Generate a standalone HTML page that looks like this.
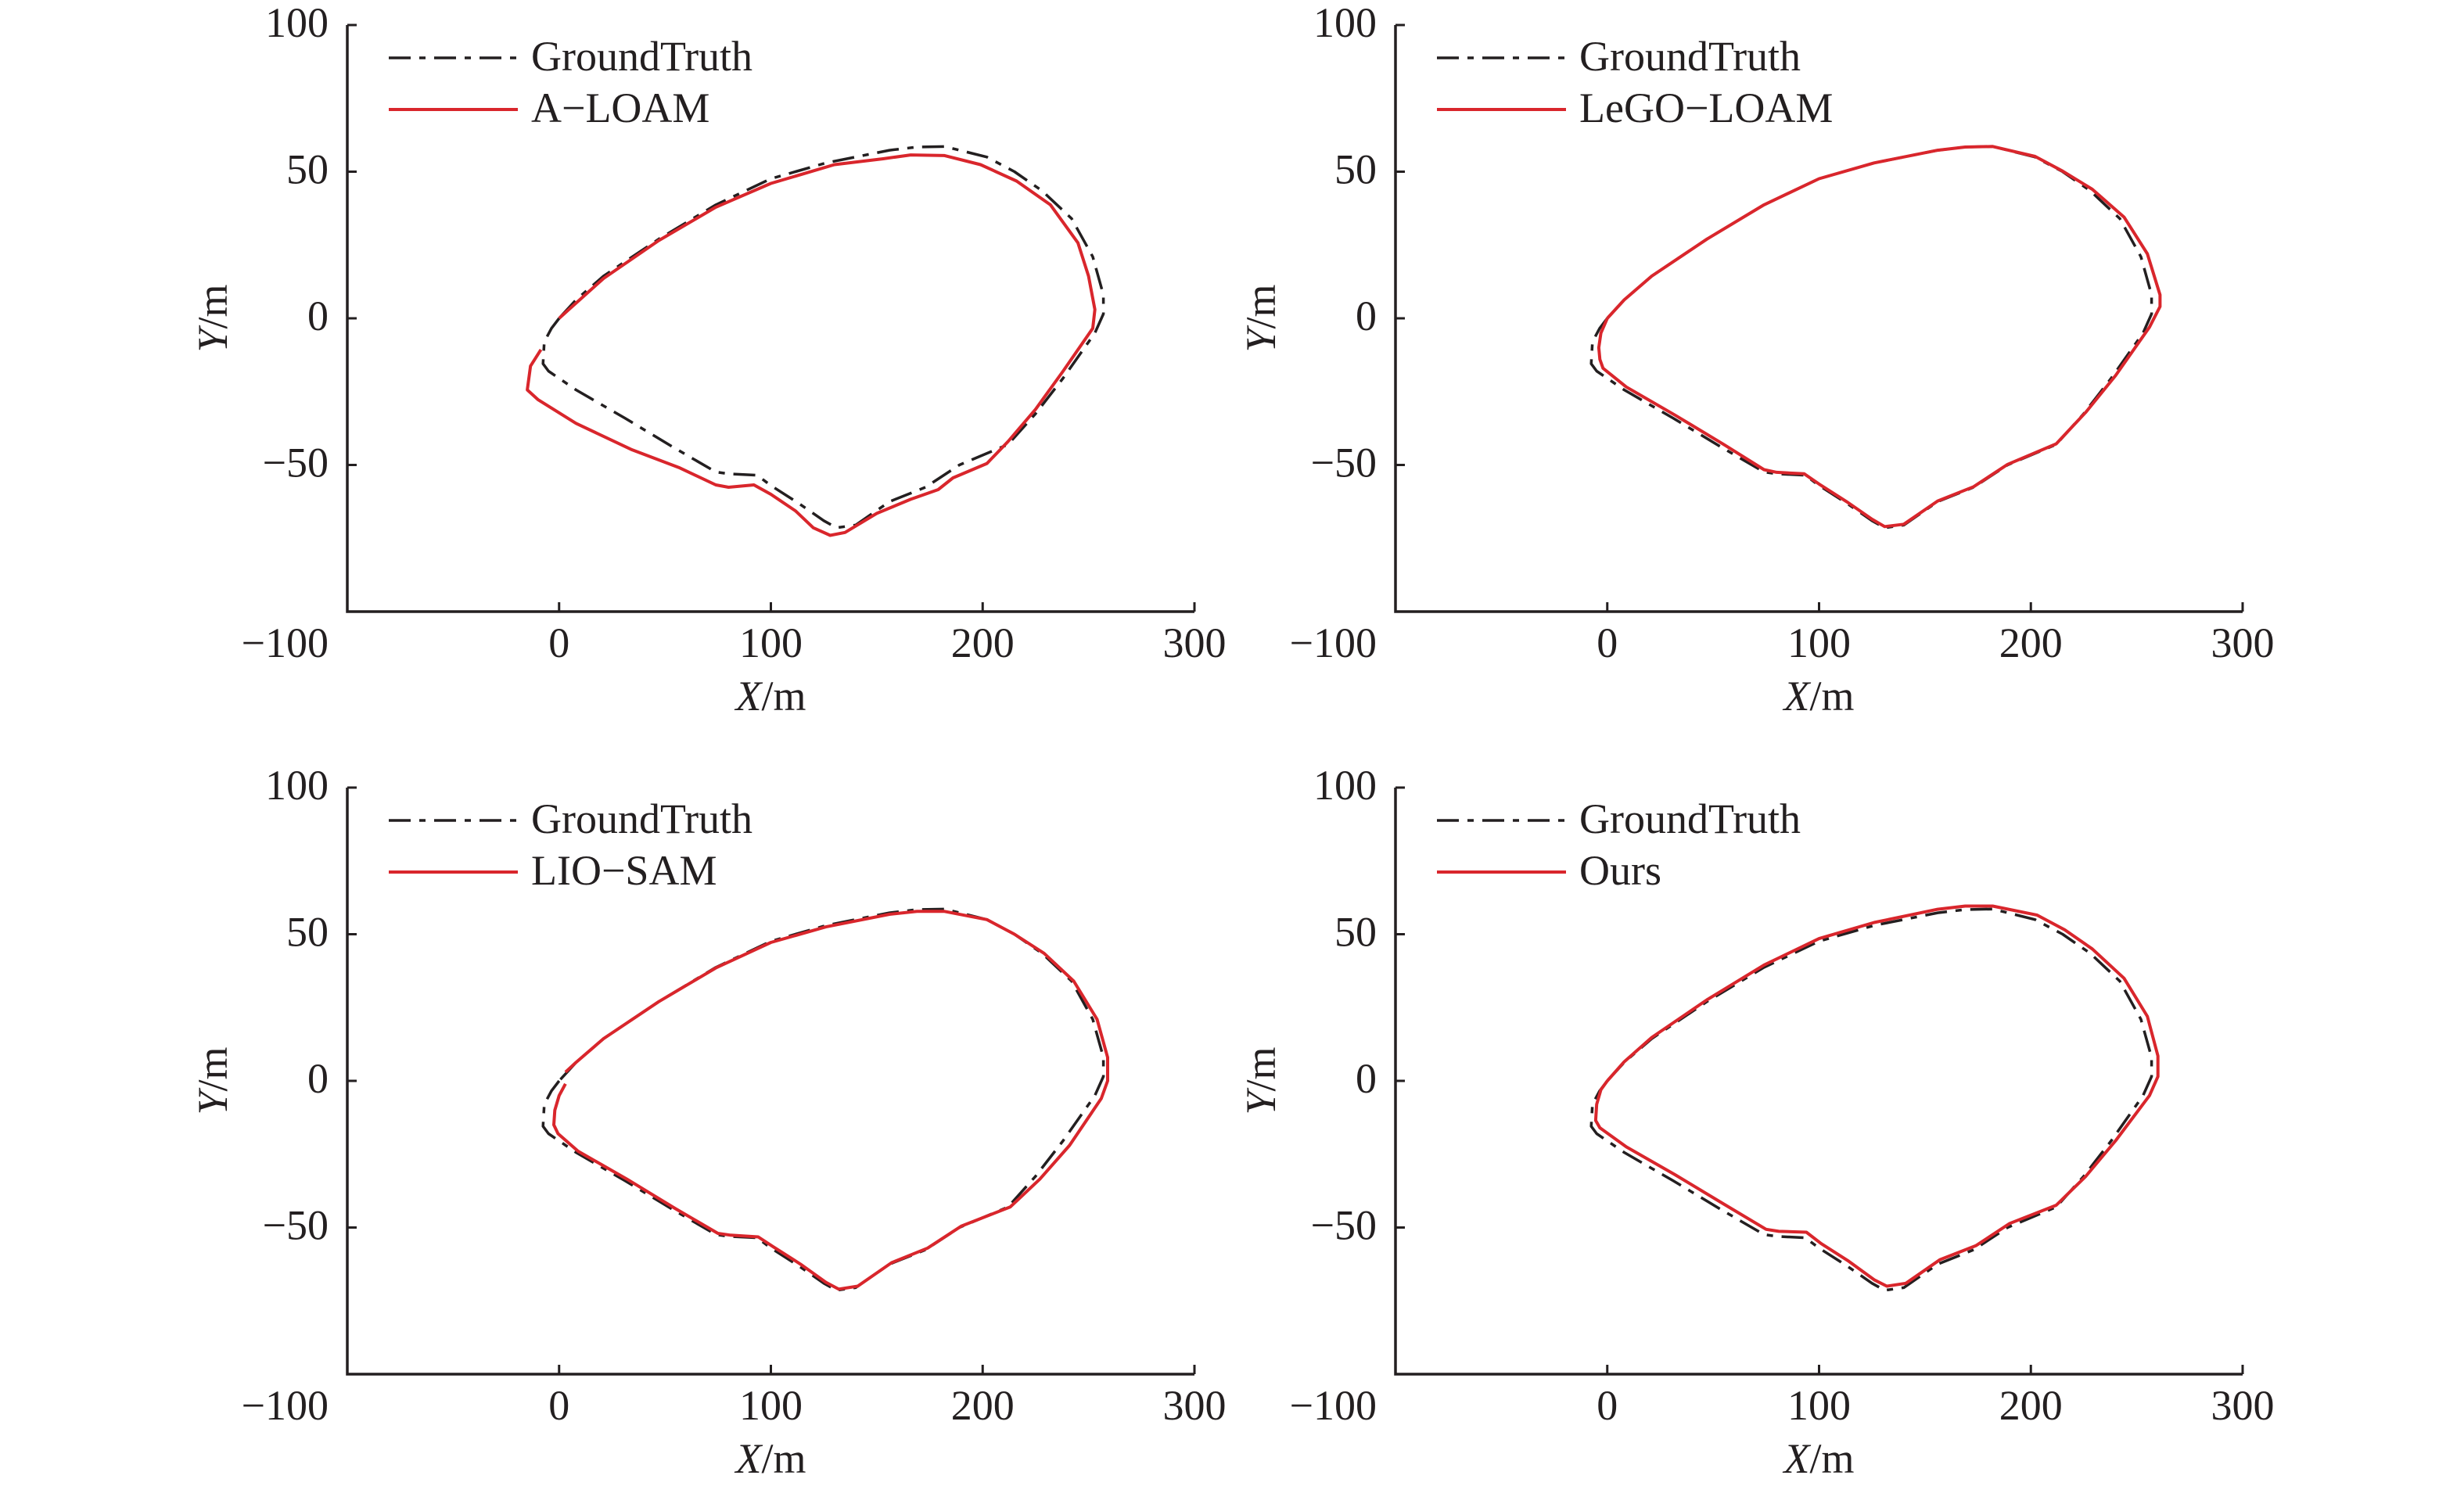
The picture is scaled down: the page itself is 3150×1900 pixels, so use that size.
<!DOCTYPE html>
<html><head><meta charset="utf-8">
<style>
html,body{margin:0;padding:0;background:#fff;}
svg{display:block;font-family:"Liberation Serif","Times New Roman",serif;}
</style></head>
<body>
<svg id="chart" width="3150" height="1900" viewBox="0 0 3150 1900" xmlns="http://www.w3.org/2000/svg"></svg>
<script>
// ---- data ----
const xTicks = [0, 100, 200, 300];
const yTicks = [100, 50, 0, -50];
const xTickLabels = ["−100", "0", "100", "200", "300"];
const yTickLabels = ["100", "50", "0", "−50"];
const methods = ["A−LOAM", "LeGO−LOAM", "LIO−SAM", "Ours"];

const gtX = [0,-3.6,-7,-7.6,-5,8,31,54,74,80,93.5,100,113,125,131,140,156,173,189,212,225,238,253,257,257,252,242,228,215,202,182,169,156,126,100,74,47,21,8,0];
const gtY = [0,-3.4,-8,-15.5,-18,-24.4,-34,-44,-52.4,-53,-53.5,-57,-63,-69,-71.4,-70.5,-62.5,-57.6,-50,-43,-32.5,-20.4,-5,1.5,8,21,34,43.5,50,55,58.6,58.4,57.3,53,47.6,38.7,27,14.4,6.3,0];

const aloamX = [-8.6,-13.5,-15,-10,8,34,57,74,80,92,100,111.7,120,128,135,150,166,179,186,202,212,225,238,252,253,250,245,232,216,199,182,166,153,130,100,74,47,21,4.6,0];
const aloamY = [-10.7,-16.3,-24.4,-27.7,-35.8,-44.7,-51,-56.8,-57.6,-56.8,-60,-65.7,-71.4,-74,-73,-66.5,-61.7,-58.4,-54.4,-49.5,-42,-31,-18,-3.4,3,14.4,25.7,38.7,46.8,52.4,55.5,55.7,54.4,52.4,46,37.9,26.5,13.6,3,0];

const legoX = [0,-3,-4,-3.5,-2,9,32,55,74,80,93,100,113,125,131,140,156,173,189,212,226,240,256,261,261,255,244,229,215,202,182,169,156,126,100,74,47,21,8,0];
const legoY = [0,-5,-10,-14,-17,-23.4,-33,-43,-51.6,-52.5,-53,-56.5,-62.5,-68.5,-71,-70.2,-62.3,-57.4,-49.8,-42.8,-32,-19.5,-3,4,8,22,34.5,44,50.2,55.2,58.6,58.4,57.3,53,47.6,38.7,27,14.4,6.3,0];

const liosamX = [3,0,-2,-2.5,-0.5,9,32,55,75,81,94,101,114,126,132,141,157,174,190,213,227,241,256,259,259,254,243,229,215,202,182,169,156,126,100,74,47,21,8,3];
const liosamY = [-1,-5,-10,-15,-18,-24,-33.5,-43.6,-52,-52.6,-53.2,-56.5,-62.5,-68.7,-71,-70,-62,-57,-49.5,-43,-33.5,-22,-6,0,8,21,34,43.5,50,55,57.8,57.8,56.8,52.5,47.2,38.5,27,14.4,6.3,3];

const oursX = [0,-3,-5,-5.5,-3.5,9,32,55,75,81,94,101,114,126,132,141,157,174,190,212,226,240,256,260,260,255,244,229,216,203,182,169,156,126,100,74,47,21,8,0];
const oursY = [0,-3,-8,-13.5,-16,-22.5,-32,-42,-50.6,-51.3,-51.6,-55.5,-61.5,-67.8,-70,-69,-61,-56.2,-48.6,-42.4,-32.5,-20.4,-5,1.5,8.5,22,35,45,51.5,56.5,59.6,59.6,58.5,54,48.5,39.5,27.6,14.8,6.5,0];

const estX = [aloamX, legoX, liosamX, oursX];
const estY = [aloamY, legoY, liosamY, oursY];

// ---- layout ----
const NS = "http://www.w3.org/2000/svg";
const svg = document.getElementById("chart");
const offsets = [[0,0],[1340,0],[0,975],[1340,975]];
const AX_L = 444, AX_R = 1527, AX_T = 32, AX_B = 782;
function mk(tag, attrs, parent){
  const e = document.createElementNS(NS, tag);
  for (const k in attrs) e.setAttribute(k, attrs[k]);
  (parent || svg).appendChild(e);
  return e;
}
for (let p = 0; p < 4; p++) {
  const ox = offsets[p][0], oy = offsets[p][1];
  const sx = v => ox + AX_L + (v + 100) / 400 * (AX_R - AX_L);
  const sy = v => oy + AX_T + (100 - v) / 200 * (AX_B - AX_T);
  const g = mk("g", {});
  
  

  const ax = mk("path", {d:`M${sx(-100)},${sy(100)} L${sx(-100)},${sy(-100)} L${sx(300)},${sy(-100)}`, stroke:"#231f20", "stroke-width":3.5, fill:"none"}, g);
  
  

  xTicks.forEach(v => {
    const t = mk("line", {x1:sx(v), x2:sx(v), y1:sy(-100), y2:sy(-100)-12, stroke:"#231f20", "stroke-width":3}, g);
    
    
  });
  yTicks.forEach(v => {
    const t = mk("line", {x1:sx(-100), x2:sx(-100)+12, y1:sy(v), y2:sy(v), stroke:"#231f20", "stroke-width":3}, g);
    
    
  });
  [-100].concat(xTicks).forEach((v, i) => {
    const anchor = v === -100 ? "end" : "middle";
    const xx = v === -100 ? sx(-100) - 24 : sx(v);
    const t = mk("text", {x:xx, y:oy+840, "text-anchor":anchor, "font-size":54, fill:"#231f20"}, g);
    t.textContent = xTickLabels[i];
    
    
  });
  yTicks.forEach((v, i) => {
    const t = mk("text", {x:ox+420, y:sy(v)+15, "text-anchor":"end", "font-size":54, fill:"#231f20"}, g);
    t.textContent = yTickLabels[i];
    
    
  });
  const xt = mk("text", {x:sx(100), y:oy+908, "text-anchor":"middle", "font-size":54, fill:"#231f20"}, g);
  xt.innerHTML = '<tspan font-style="italic">X</tspan>/m';
  
  
  const yt = mk("text", {x:0, y:0, "text-anchor":"middle", "font-size":54, fill:"#231f20", transform:`translate(${ox+290},${sy(0)}) rotate(-90)`}, g);
  yt.innerHTML = '<tspan font-style="italic">Y</tspan>/m';
  
  

  const ptsGT = gtX.map((x, i) => `${sx(x).toFixed(1)},${sy(gtY[i]).toFixed(1)}`).join(" ");
  const ex = estX[p], ey = estY[p];
  const ptsE = ex.map((x, i) => `${sx(x).toFixed(1)},${sy(ey[i]).toFixed(1)}`).join(" ");
  const gl = mk("polyline", {points:ptsGT, fill:"none", stroke:"#231f20", "stroke-width":3.5, "stroke-dasharray":"28 11 8 11", "stroke-linejoin":"round"}, g);
  
  
  const el = mk("polyline", {points:ptsE, fill:"none", stroke:"#d9262c", "stroke-width":4, "stroke-linejoin":"round"}, g);
  
  

  const lg = mk("g", {}, g);
  
  
  const lx = ox + 497;
  const l1 = mk("line", {x1:lx, x2:lx+165, y1:oy+74, y2:oy+74, stroke:"#231f20", "stroke-width":3.5, "stroke-dasharray":"28 11 8 11"}, lg);
  
  
  const t1 = mk("text", {x:lx+182, y:oy+90, "font-size":54, fill:"#231f20"}, lg);
  t1.textContent = "GroundTruth";
  
  
  const l2 = mk("line", {x1:lx, x2:lx+165, y1:oy+140, y2:oy+140, stroke:"#d9262c", "stroke-width":4}, lg);
  
  
  const t2 = mk("text", {x:lx+182, y:oy+156, "font-size":54, fill:"#231f20"}, lg);
  t2.textContent = methods[p];
  
  
}
</script>
</body></html>
